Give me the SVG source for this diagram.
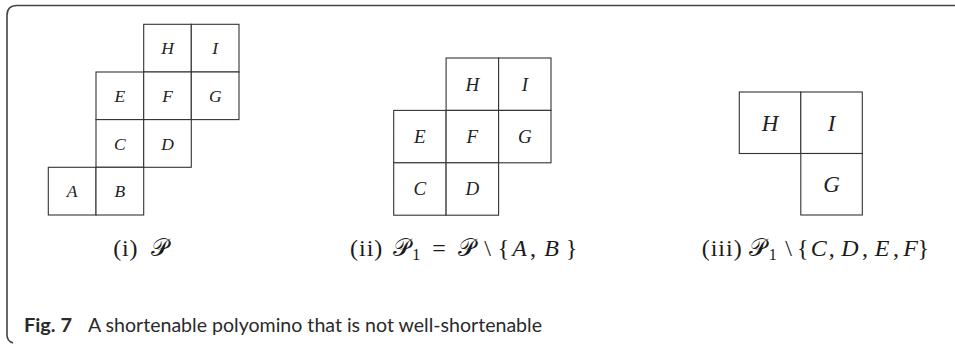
<svg xmlns="http://www.w3.org/2000/svg" width="955" height="346" viewBox="0 0 955 346">
<style>
.cell{fill:#fff;stroke:#333;stroke-width:1.1}
.lab{font-family:"Liberation Serif","DejaVu Serif",serif;font-style:italic;fill:#222;text-anchor:middle}
.l1{font-size:17.5px}.l2{font-size:19px}.l3{font-size:23px}
.cap{font-family:"Liberation Serif","DejaVu Serif",serif;font-size:24px;fill:#1a1a1a}
.m{text-anchor:middle}
.it{font-style:italic;text-anchor:middle}
.scr{font-family:"DejaVu Serif","DejaVu Sans",serif;font-style:normal;text-anchor:middle}
.sub{font-size:16px;text-anchor:middle}
.fig{font-family:Lato,"Open Sans",sans-serif;font-size:19.5px;fill:#2a2a2a}
</style>
<path d="M955,5.5 H17 Q7,5.5 7,15.5 V335 Q7,341 13,343" fill="none" stroke="#444" stroke-width="1.6"/>
<g id="poly1">
<g id="p1-H"><rect class="cell" x="143.7" y="24.3" width="47.6" height="47.7"/><text class="lab l1" x="167.5" y="54.2">H</text></g>
<g id="p1-I"><rect class="cell" x="191.3" y="24.3" width="47.7" height="47.7"/><text class="lab l1" x="215.2" y="54.2">I</text></g>
<g id="p1-E"><rect class="cell" x="96" y="72" width="47.7" height="47.6"/><text class="lab l1" x="119.8" y="101.9">E</text></g>
<g id="p1-F"><rect class="cell" x="143.7" y="72" width="47.6" height="47.6"/><text class="lab l1" x="167.5" y="101.9">F</text></g>
<g id="p1-G"><rect class="cell" x="191.3" y="72" width="47.7" height="47.6"/><text class="lab l1" x="215.2" y="101.9">G</text></g>
<g id="p1-C"><rect class="cell" x="96" y="119.6" width="47.7" height="47.7"/><text class="lab l1" x="119.8" y="149.6">C</text></g>
<g id="p1-D"><rect class="cell" x="143.7" y="119.6" width="47.6" height="47.7"/><text class="lab l1" x="167.5" y="149.6">D</text></g>
<g id="p1-A"><rect class="cell" x="48.3" y="167.3" width="47.7" height="47.7"/><text class="lab l1" x="72.2" y="197.2">A</text></g>
<g id="p1-B"><rect class="cell" x="96" y="167.3" width="47.7" height="47.7"/><text class="lab l1" x="119.8" y="197.2">B</text></g>
</g>
<g id="poly2">
<g id="p2-H"><rect class="cell" x="446.1" y="58" width="52.5" height="52.4"/><text class="lab l2" x="472.4" y="90.6">H</text></g>
<g id="p2-I"><rect class="cell" x="498.6" y="58" width="52.4" height="52.4"/><text class="lab l2" x="524.8" y="90.6">I</text></g>
<g id="p2-E"><rect class="cell" x="393.7" y="110.4" width="52.4" height="52.4"/><text class="lab l2" x="419.9" y="143">E</text></g>
<g id="p2-F"><rect class="cell" x="446.1" y="110.4" width="52.5" height="52.4"/><text class="lab l2" x="472.4" y="143">F</text></g>
<g id="p2-G"><rect class="cell" x="498.6" y="110.4" width="52.4" height="52.4"/><text class="lab l2" x="524.8" y="143">G</text></g>
<g id="p2-C"><rect class="cell" x="393.7" y="162.8" width="52.4" height="52.4"/><text class="lab l2" x="419.9" y="195.4">C</text></g>
<g id="p2-D"><rect class="cell" x="446.1" y="162.8" width="52.5" height="52.4"/><text class="lab l2" x="472.4" y="195.4">D</text></g>
</g>
<g id="poly3">
<g id="p3-H"><rect class="cell" x="739.3" y="92" width="61.5" height="61.5"/><text class="lab l3" x="770" y="130.7">H</text></g>
<g id="p3-I"><rect class="cell" x="800.8" y="92" width="61.5" height="61.5"/><text class="lab l3" x="831.5" y="130.7">I</text></g>
<g id="p3-G"><rect class="cell" x="800.8" y="153.5" width="61.5" height="61.5"/><text class="lab l3" x="831.5" y="192.2">G</text></g>
</g>
<g id="captions">
<text class="cap" y="255.5"><tspan x="113.3" letter-spacing="0.8">(i)</tspan><tspan class="scr" x="159">𝒫</tspan></text>
<text class="cap" y="255.5"><tspan x="350" letter-spacing="1">(ii)</tspan><tspan class="scr" x="401.5">𝒫</tspan><tspan class="sub" x="416.2" dy="4">1</tspan><tspan class="m" x="439" dy="-4">=</tspan><tspan class="scr" x="466">𝒫</tspan><tspan class="m" x="487.5">\</tspan><tspan class="m" x="503.5">{</tspan><tspan class="it" x="519.5">A</tspan><tspan class="m" x="533">,</tspan><tspan class="it" x="551.5">B</tspan><tspan class="m" x="571.5">}</tspan></text>
<text class="cap" y="255.5"><tspan x="701.7" letter-spacing="1">(iii)</tspan><tspan class="scr" x="757.5">𝒫</tspan><tspan class="sub" x="772.8" dy="4">1</tspan><tspan class="m" x="788.7" dy="-4">\</tspan><tspan class="m" x="802.8">{</tspan><tspan class="it" x="818.7">C</tspan><tspan class="m" x="831.8">,</tspan><tspan class="it" x="849.8">D</tspan><tspan class="m" x="865">,</tspan><tspan class="it" x="882">E</tspan><tspan class="m" x="896">,</tspan><tspan class="it" x="910.5">F</tspan><tspan class="m" x="923.3">}</tspan></text>
</g>
<text class="fig" y="331.5"><tspan x="24" font-weight="bold" textLength="48" lengthAdjust="spacingAndGlyphs">Fig. 7</tspan><tspan x="88" textLength="454" lengthAdjust="spacingAndGlyphs">A shortenable polyomino that is not well-shortenable</tspan></text>
</svg>
